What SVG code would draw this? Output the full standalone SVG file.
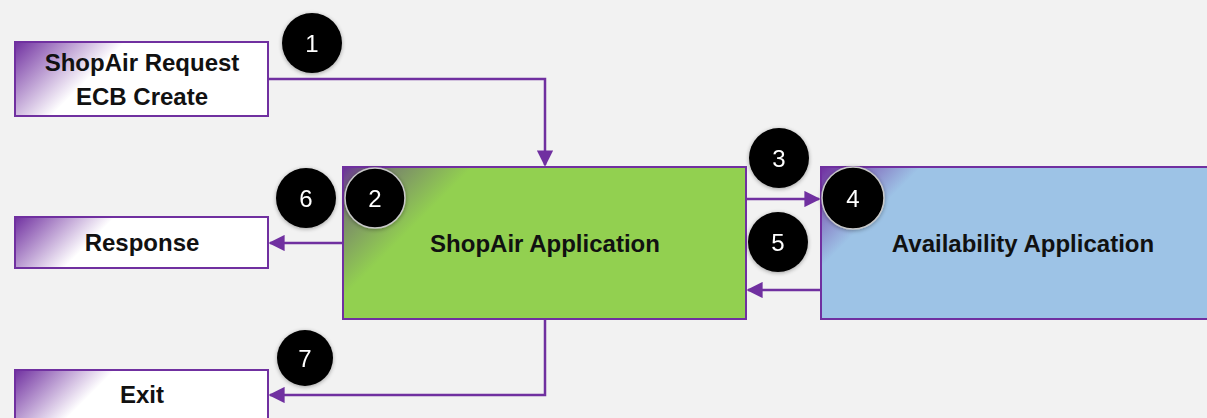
<svg xmlns="http://www.w3.org/2000/svg" width="1207" height="418" viewBox="0 0 1207 418">
  <style>
    .box { stroke: #7030a0; stroke-width: 2; }
    .label { font-family: "Liberation Sans", Arial, sans-serif; font-weight: bold; font-size: 24px; fill: #111; text-anchor: middle; }
    .big { font-size: 24px; }
    .conn { fill: none; stroke: #7030a0; stroke-width: 2.5; }
    .badge { fill: #000; }
    .badge-ring { fill: #000; stroke: #c8c8c8; stroke-width: 1.5; }
    .num { font-family: "Liberation Sans", Arial, sans-serif; font-size: 24px; fill: #fff; text-anchor: middle; }
  </style>
  <defs>
    <marker id="arrow" viewBox="0 0 10 10" refX="9" refY="5" markerWidth="6.5" markerHeight="6.5" orient="auto" markerUnits="strokeWidth">
      <path d="M0,0 L10,5 L0,10 z" fill="#7030a0"/>
    </marker>
    <filter id="shadow" x="-30%" y="-30%" width="160%" height="160%">
      <feGaussianBlur in="SourceAlpha" stdDeviation="2"/>
      <feOffset dx="0" dy="1" result="b"/>
      <feComponentTransfer><feFuncA type="linear" slope="0.35"/></feComponentTransfer>
      <feMerge><feMergeNode/><feMergeNode in="SourceGraphic"/></feMerge>
    </filter>
    <linearGradient id="cReq" gradientUnits="userSpaceOnUse" x1="15" y1="42" x2="70" y2="97">
      <stop offset="0" stop-color="#7030a0" stop-opacity="1"/>
      <stop offset="1" stop-color="#7030a0" stop-opacity="0"/>
    </linearGradient>
    <linearGradient id="cResp" gradientUnits="userSpaceOnUse" x1="15" y1="217" x2="65" y2="267">
      <stop offset="0" stop-color="#7030a0" stop-opacity="1"/>
      <stop offset="1" stop-color="#7030a0" stop-opacity="0"/>
    </linearGradient>
    <linearGradient id="cExit" gradientUnits="userSpaceOnUse" x1="15" y1="370" x2="65" y2="420">
      <stop offset="0" stop-color="#7030a0" stop-opacity="1"/>
      <stop offset="1" stop-color="#7030a0" stop-opacity="0"/>
    </linearGradient>
    <linearGradient id="cShop" gradientUnits="userSpaceOnUse" x1="343" y1="167" x2="408" y2="232">
      <stop offset="0" stop-color="#6a2f9a" stop-opacity="1"/>
      <stop offset="0.4" stop-color="#6a5a7a" stop-opacity="0.6"/>
      <stop offset="1" stop-color="#6a5a7a" stop-opacity="0"/>
    </linearGradient>
    <linearGradient id="cAvail" gradientUnits="userSpaceOnUse" x1="821" y1="167" x2="871" y2="217">
      <stop offset="0" stop-color="#7030a0" stop-opacity="1"/>
      <stop offset="1" stop-color="#7030a0" stop-opacity="0"/>
    </linearGradient>
  </defs>

  <rect x="0" y="0" width="1207" height="418" fill="#f2f2f2"/>

  <!-- connectors -->
  <g id="connectors">
    <path class="conn" d="M268,79 H545 V165" marker-end="url(#arrow)"/>
    <path class="conn" d="M343,243 H270" marker-end="url(#arrow)"/>
    <path class="conn" d="M746,199 H819" marker-end="url(#arrow)"/>
    <path class="conn" d="M821,290 H748" marker-end="url(#arrow)"/>
    <path class="conn" d="M545,319 V395 H270" marker-end="url(#arrow)"/>
  </g>

  <g id="node-request">
    <rect class="box" x="15" y="42" width="253" height="74" fill="#ffffff"/>
    <rect x="16" y="43" width="251" height="72" fill="url(#cReq)"/>
    <text class="label" x="142" y="71">ShopAir Request</text>
    <text class="label" x="142" y="105">ECB Create</text>
  </g>

  <g id="node-response">
    <rect class="box" x="15" y="217" width="253" height="51" fill="#ffffff"/>
    <rect x="16" y="218" width="251" height="49" fill="url(#cResp)"/>
    <text class="label" x="142" y="251">Response</text>
  </g>

  <g id="node-exit">
    <rect class="box" x="15" y="370" width="253" height="60" fill="#ffffff"/>
    <rect x="16" y="371" width="251" height="58" fill="url(#cExit)"/>
    <text class="label" x="142" y="403">Exit</text>
  </g>

  <g id="node-shopair">
    <rect class="box" x="343" y="167" width="403" height="152" fill="#92d050"/>
    <rect x="344" y="168" width="401" height="150" fill="url(#cShop)"/>
    <text class="label big" x="545" y="252">ShopAir Application</text>
  </g>

  <g id="node-availability">
    <rect class="box" x="821" y="167" width="400" height="152" fill="#9dc3e6"/>
    <rect x="822" y="168" width="398" height="150" fill="url(#cAvail)"/>
    <text class="label big" x="1023" y="252">Availability Application</text>
  </g>

  <!-- step badges -->
  <g id="badge-1" filter="url(#shadow)">
    <circle class="badge" cx="312" cy="43" r="30"/>
    <text class="num" x="312" y="52">1</text>
  </g>
  <g id="badge-6" filter="url(#shadow)">
    <circle class="badge" cx="306" cy="198" r="30"/>
    <text class="num" x="306" y="207">6</text>
  </g>
  <g id="badge-2" filter="url(#shadow)">
    <circle class="badge-ring" cx="375" cy="198" r="30"/>
    <text class="num" x="375" y="207">2</text>
  </g>
  <g id="badge-3" filter="url(#shadow)">
    <circle class="badge" cx="779" cy="158" r="30"/>
    <text class="num" x="779" y="167">3</text>
  </g>
  <g id="badge-4" filter="url(#shadow)">
    <circle class="badge-ring" cx="853" cy="198" r="31"/>
    <text class="num" x="853" y="207">4</text>
  </g>
  <g id="badge-5" filter="url(#shadow)">
    <circle class="badge" cx="778" cy="242" r="30"/>
    <text class="num" x="778" y="251">5</text>
  </g>
  <g id="badge-7" filter="url(#shadow)">
    <circle class="badge" cx="305" cy="358" r="28"/>
    <text class="num" x="305" y="367">7</text>
  </g>
</svg>
